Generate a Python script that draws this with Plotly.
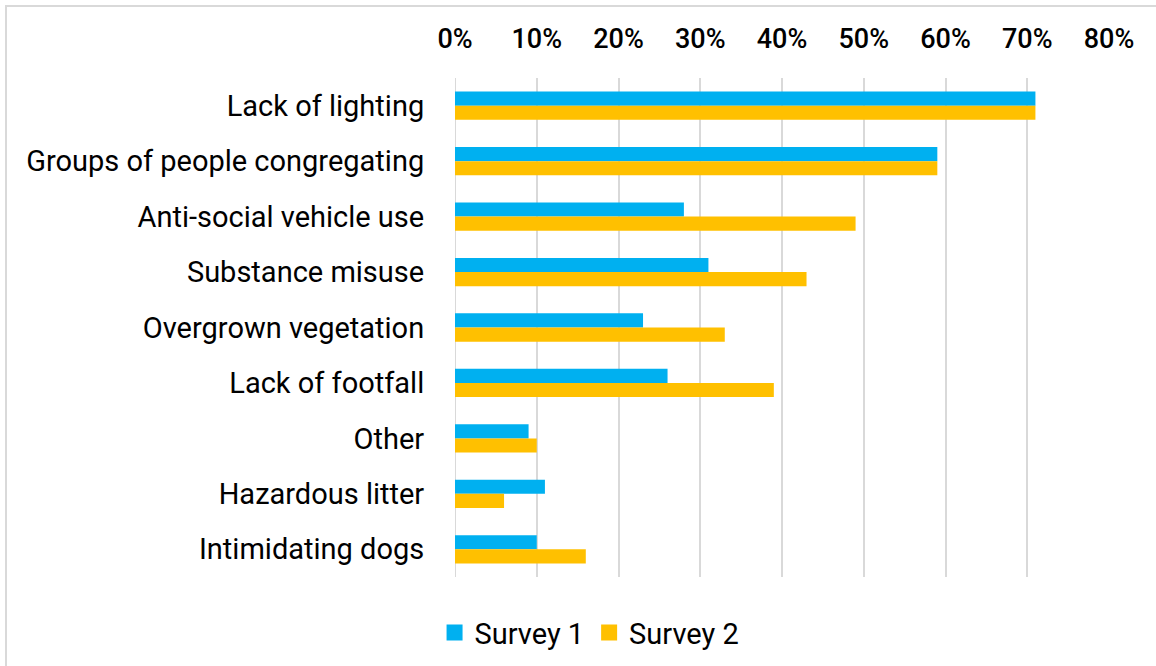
import plotly.graph_objects as go

categories = [
    "Lack of lighting",
    "Groups of people congregating",
    "Anti-social vehicle use",
    "Substance misuse",
    "Overgrown vegetation",
    "Lack of footfall",
    "Other",
    "Hazardous litter",
    "Intimidating dogs",
]
survey_1 = [0.71, 0.59, 0.28, 0.31, 0.23, 0.26, 0.09, 0.11, 0.10]
survey_2 = [0.71, 0.59, 0.49, 0.43, 0.33, 0.39, 0.10, 0.06, 0.16]
tick_values = [0, 0.1, 0.2, 0.3, 0.4, 0.5, 0.6, 0.7, 0.8]
tick_labels = ["0%", "10%", "20%", "30%", "40%", "50%", "60%", "70%", "80%"]
series_names = ["Survey 1", "Survey 2"]
series_colors = ["#00B0F0", "#FFC000"]

W, H = 1156, 666
L, R, T, B = 455, 47, 78, 89
FONT = "Roboto"

fig = go.Figure()
for name, vals, color in zip(series_names, [survey_1, survey_2], series_colors):
    fig.add_trace(go.Bar(y=categories, x=vals, name=name, orientation="h",
                         marker=dict(color=color, line=dict(width=0)),
                         showlegend=False))
# legend entries with larger square swatches
for name, color in zip(series_names, series_colors):
    fig.add_trace(go.Scatter(x=[None], y=[None], mode="markers", name=name,
                             marker=dict(symbol="square", size=16, color=color)))

# light frame along the left and top edges of the canvas
pw, ph = W - L - R, H - T - B
def px(x):
    return (x - L) / pw
def py(y):
    return (H - B - y) / ph
frame = f"M {px(6)},{py(667)} L {px(6)},{py(6)} L {px(1160)},{py(6)}"

fig.update_layout(
    width=W, height=H,
    margin=dict(l=L, r=R, t=T, b=B, pad=0),
    paper_bgcolor="white", plot_bgcolor="white",
    barmode="group", bargap=0.49, bargroupgap=0,
    font=dict(family=FONT, size=28, color="#000000"),
    xaxis=dict(range=[0, 0.8], side="top", tickvals=tick_values, ticktext=tick_labels,
               showgrid=True, gridcolor="#D9D9D9", gridwidth=2,
               zeroline=False, showline=False,
               ticks="outside", ticklen=18, tickcolor="rgba(0,0,0,0)",
               tickfont=dict(family=FONT, size=27, weight=500), fixedrange=True),
    yaxis=dict(autorange="reversed", showgrid=False, zeroline=False, showline=False,
               ticks="outside", ticklen=24, tickcolor="rgba(0,0,0,0)",
               tickfont=dict(family=FONT, size=29, weight=400)),
    legend=dict(orientation="h", xref="container", yref="container",
                x=0.51, y=0.05, xanchor="center", yanchor="middle",
                font=dict(family=FONT, size=29, weight=400), itemwidth=30,
                traceorder="normal"),
    shapes=[dict(type="path", xref="paper", yref="paper", path=frame,
                 line=dict(color="#D9D9D9", width=2), layer="above")],
)

# vertical gridline at 0% drawn explicitly so it matches the others
fig.add_vline(x=0, line=dict(color="#D9D9D9", width=2), layer="below")

fig.write_html("out.html")
